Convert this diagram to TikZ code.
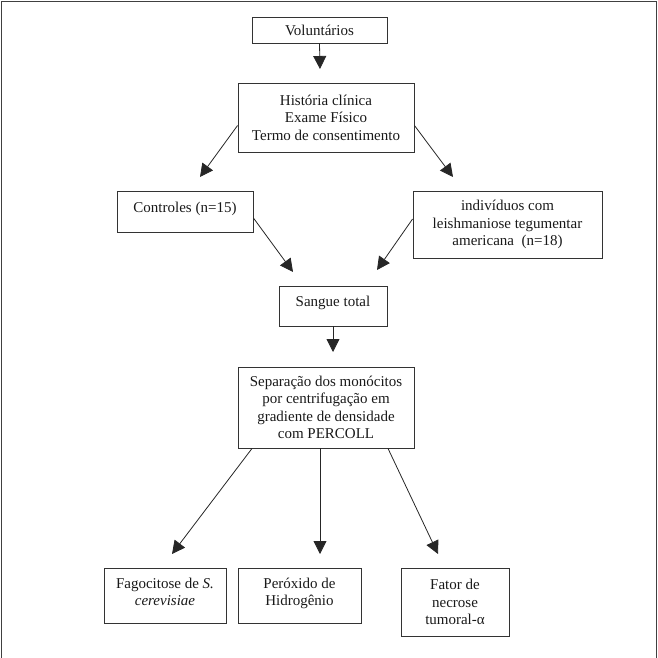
\documentclass[tikz,border=0pt]{standalone}
\usepackage{fontspec}
\setmainfont{Liberation Serif}
\usetikzlibrary{arrows.meta}
\begin{document}
\begin{tikzpicture}[x=1pt,y=-1pt,
  box/.style={draw=black!80, line width=0.9pt, inner sep=0pt, align=center,
    font=\fontsize{15}{17.5}\selectfont, text=black!90},
  conn/.style={draw=black!85, line width=0.8pt, -{Triangle[length=13pt,width=13pt]}}]
\useasboundingbox (0,0) rectangle (658,658);
\draw[black!75, line width=1pt] (1,658) -- (1,2) -- (656,2) -- (656,658);

\node[box, minimum width=135, minimum height=26] (vol) at (319.5,30) {Voluntários};
\node[box, minimum width=176, minimum height=69] (hist) at (326,117.5) {História clínica\\Exame Físico\\Termo de consentimento};
\node[box, minimum width=136, minimum height=41, text height=10.5pt, text depth=9.5pt] (ctrl) at (185,211.5) {Controles (n=15)};
\node[box, minimum width=189, minimum height=67] (ind) at (507.5,224.5) {indivíduos com\\leishmaniose tegumentar\\americana\ \ (n=18)};
\node[box, minimum width=108, minimum height=40, text height=10.5pt, text depth=9pt] (sang) at (333,306) {Sangue total};
\node[box, minimum width=176, minimum height=81] (sep) at (326,407.5) {Separação dos monócitos\\por centrifugação em\\gradiente de densidade\\com PERCOLL};
\node[box, minimum width=122, minimum height=55, text depth=7pt] (fag) at (165,595.5) {Fagocitose de \textit{S.}\\\textit{cerevisiae}};
\node[box, minimum width=123, minimum height=55, text depth=7pt] (per) at (299.5,595.5) {Peróxido de\\Hidrogênio};
\node[box, minimum width=108, minimum height=68] (fat) at (455,602) {Fator de\\necrose\\tumoral-α};

\coordinate (t1) at (320,69);
\coordinate (t2) at (200,177);
\coordinate (t3) at (453,177);
\coordinate (t4) at (293,272);
\coordinate (t5) at (377,270);
\coordinate (t6) at (333,352);
\coordinate (t7) at (172,554);
\coordinate (t8) at (320,554);
\coordinate (t9) at (438,554);

\draw[conn] (vol.south) -- (t1);
\draw[conn] ([yshift=-8pt]hist.west) -- (t2);
\draw[conn] ([yshift=-8pt]hist.east) -- (t3);
\draw[conn] ([yshift=-6.5pt]ctrl.east) -- (t4);
\draw[conn] ([yshift=5.5pt]ind.west) -- (t5);
\draw[conn] (sang.south) -- (t6);
\draw[conn] ([xshift=-74pt]sep.south) -- (t7);
\draw[conn] ([xshift=-6pt]sep.south) -- (t8);
\draw[conn] ([xshift=62pt]sep.south) -- (t9);
\end{tikzpicture}
\end{document}
